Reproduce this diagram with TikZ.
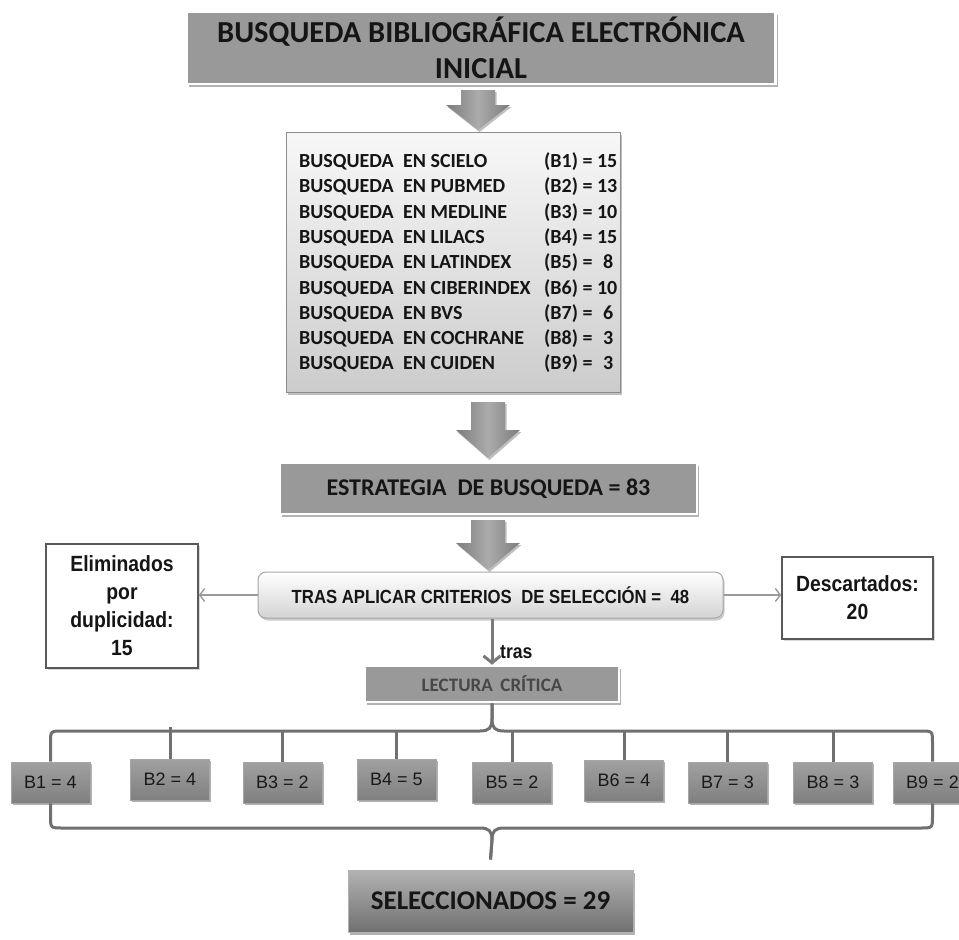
\documentclass[tikz,border=0pt]{standalone}
\usepackage{fontspec}
\setmainfont{Carlito}
\newfontfamily\arialf{Liberation Sans}
\newfontfamily\narrowf[FakeStretch=0.88]{Liberation Sans}
\usetikzlibrary{arrows.meta,shadows,calc}
\newcommand\setfs[2]{\fontsize{#1}{#2}\selectfont}
\definecolor{boxgray}{HTML}{999999}
\definecolor{txtdark}{HTML}{151515}
\definecolor{brkgray}{HTML}{707070}
\definecolor{arrD}{HTML}{7c7c7c}
\definecolor{arrL}{HTML}{ababab}
\definecolor{thinarr}{HTML}{9a9a9a}
\newcommand\blockarrow[4]{%
  \path[left color=arrD, right color=arrD, middle color=arrL,
        drop shadow={shadow xshift=1.5pt, shadow yshift=-2pt, opacity=0.25, fill=black}]
    (#1-17,#2) -- (#1+17,#2) -- (#1+17,#3-#4) -- (#1+32,#3-#4) -- (#1,#3)
    -- (#1-32,#3-#4) -- (#1-17,#3-#4) -- cycle;}
\begin{document}
\begin{tikzpicture}[x=1pt,y=-1pt,
  darkbox/.style={draw=white, line width=2.5pt, fill=boxgray, inner sep=0pt,
    text=txtdark, align=center,
    drop shadow={shadow xshift=2pt, shadow yshift=-3pt, opacity=0.3, fill=black}},
  listtxt/.style={inner sep=0pt, text=txtdark, font={\bfseries\setfs{20}{23}}},
  sidebox/.style={draw=black!65, line width=1.6pt, fill=white, inner sep=0pt,
    align=center, text=txtdark, font={\narrowf\bfseries\setfs{22}{28}},
    drop shadow={shadow xshift=1.5pt, shadow yshift=-2pt, opacity=0.15, fill=black}},
  bbox/.style={top color=black!37, bottom color=black!50, draw=black!35, line width=0.6pt,
    inner sep=0pt, minimum width=79pt, minimum height=41pt, text=black!90,
    font={\arialf\setfs{18}{20}},
    drop shadow={shadow xshift=1.5pt, shadow yshift=-2pt, opacity=0.3, fill=black}},
  brk/.style={draw=brkgray, line width=3pt},
  thin/.style={draw=thinarr, line width=1.4pt, -{Straight Barb[length=5pt,width=13pt]}},
]
\useasboundingbox (0,0) rectangle (959,940);
\fill[white] (0,0) rectangle (959,940);

% title
\node[darkbox, minimum width=589pt, minimum height=72pt,
      font={\bfseries\setfs{30.5}{36}}] (title) at (481,48)
  {BUSQUEDA BIBLIOGRÁFICA ELECTRÓNICA\\INICIAL};

\blockarrow{478}{90}{130}{25}

% list box
\node[draw=black!45, line width=1pt, top color=black!3, bottom color=black!20,
      minimum width=334pt, minimum height=260pt, inner sep=0pt,
      drop shadow={shadow xshift=2pt, shadow yshift=-3pt, opacity=0.25, fill=black}]
  (list) at (453,262) {};
\foreach \nm/\db/\val [count=\i from 0] in
  {SCIELO/B1/15, PUBMED/B2/13, MEDLINE/B3/10, LILACS/B4/15,
   LATINDEX/B5/{\hspace{0.3em}8}, CIBERINDEX/B6/10, BVS/B7/{\hspace{0.3em}6},
   COCHRANE/B8/{\hspace{0.3em}3}, CUIDEN/B9/{\hspace{0.3em}3}}
{
  \node[listtxt, anchor=base west] (l\i) at (299,167.5+25.3*\i)
    {BUSQUEDA\hspace{0.47em}EN \nm};
  \node[listtxt, anchor=base west] (r\i) at (544,167.5+25.3*\i) {(\db) = \val};
}

\blockarrow{488}{402}{458}{28}

% strategy
\node[darkbox, minimum width=417pt, minimum height=51pt,
      font={\bfseries\setfs{24}{28}}] (estr) at (488.5,488.5)
  {ESTRATEGIA\hspace{0.45em}DE BUSQUEDA = 83};

\blockarrow{488}{520}{570}{27}

% criteria
\node[draw=black!35, line width=1pt, rounded corners=8pt, top color=white,
      bottom color=black!17, minimum width=465pt, minimum height=46pt, inner sep=0pt,
      text=txtdark, font={\narrowf\bfseries\setfs{19}{22}},
      drop shadow={shadow xshift=1.5pt, shadow yshift=-2.5pt, opacity=0.2, fill=black}]
  (crit) at (490.5,595) {TRAS APLICAR CRITERIOS\hspace{0.5em}DE SELECCIÓN =\hspace{0.5em}48};

% side boxes
\node[sidebox, minimum width=152pt, minimum height=124pt] (elim) at (122,606)
  {Eliminados\\por\\duplicidad:\\15};
\node[sidebox, minimum width=151pt, minimum height=82pt] (desc) at (857.5,598)
  {Descartados:\\20};
\draw[thin] (crit.west) -- (crit.west -| elim.east);
\draw[thin] (crit.east) -- (crit.east -| desc.west);

% lectura
\node[darkbox, minimum width=254pt, minimum height=36pt, text=black!72,
      font={\bfseries\setfs{19}{22}}] (lect) at (492,684) {LECTURA\hspace{0.4em}CRÍTICA};
\draw[draw=black!52, line width=3pt, -{Straight Barb[length=7pt,width=17pt]}]
  (crit.south -| lect.north) -- (lect.north);
\node[anchor=west, inner sep=0pt, text=txtdark, font={\narrowf\bfseries\setfs{20}{22}}]
  (tras) at (500,652) {tras};

% B boxes
\node[bbox] (B1) at (50.5,782.5) {B1 = 4};
\node[bbox] (B2) at (170,779.5) {B2 = 4};
\node[bbox] (B3) at (282.5,782.5) {B3 = 2};
\node[bbox] (B4) at (396.5,779.5) {B4 = 5};
\node[bbox] (B5) at (512,782.5) {B5 = 2};
\node[bbox] (B6) at (624,780.5) {B6 = 4};
\node[bbox] (B7) at (727.5,782.5) {B7 = 3};
\node[bbox] (B8) at (833,782.5) {B8 = 3};
\node[bbox] (B9) at (932.5,782.5) {B9 = 2};

% selected
\node[draw=black!30, line width=1pt, top color=black!30, bottom color=black!56,
      minimum width=285pt, minimum height=62pt, inner sep=0pt, text=txtdark,
      font={\bfseries\setfs{27}{30}},
      drop shadow={shadow xshift=2pt, shadow yshift=-3pt, opacity=0.3, fill=black}]
  (sel) at (490.5,901) {SELECCIONADOS = 29};

% brackets
\coordinate (topl) at (0,731);
\coordinate (botl) at (0,828);
\draw[brk] (B1.north) -- (50.5,743) .. controls (50.5,731) .. (62.5,731) -- (480,731)
  .. controls (489,731) and (492,728) .. (492,719) -- (lect.south);
\draw[brk] (B9.north) -- (932.5,743) .. controls (932.5,731) .. (920.5,731) -- (504,731)
  .. controls (495,731) and (492,728) .. (492,719) -- (lect.south);
\foreach \b/\yy in {B2/727,B3/731,B4/731,B5/731,B6/731,B7/731,B8/731}
  \draw[brk] (\b.north) -- (\b.north |- 0,\yy);
\draw[brk] (B1.south) -- (50.5,816) .. controls (50.5,828) .. (62.5,828) -- (480,828)
  .. controls (489,828) and (492,831) .. (492,840) -- ($(sel.north)+(0,-10)$);
\draw[brk] (B9.south) -- (932.5,816) .. controls (932.5,828) .. (920.5,828) -- (504,828)
  .. controls (495,828) and (492,831) .. (492,840) -- ($(sel.north)+(0,-10)$);
\end{tikzpicture}
\end{document}
